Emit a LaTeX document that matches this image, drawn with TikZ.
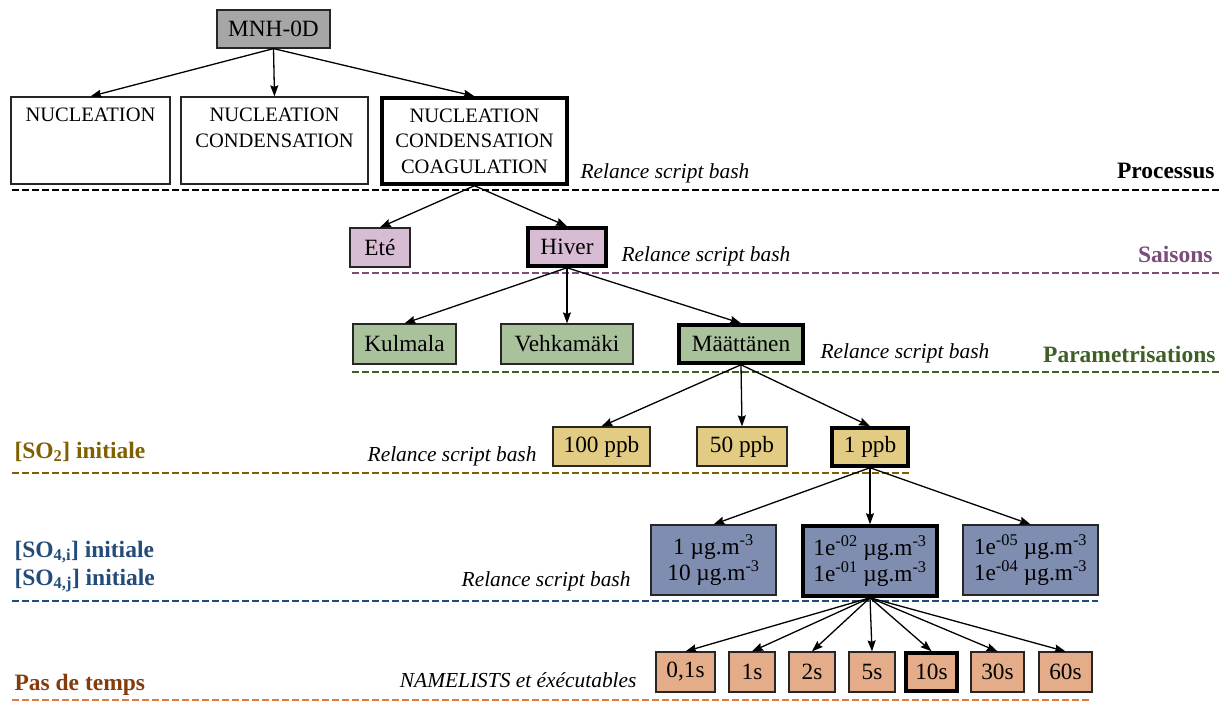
\documentclass[tikz,border=0pt]{standalone}
\usepackage{fontspec}
\setmainfont{Liberation Serif}
\usetikzlibrary{arrows.meta}
\definecolor{cgray}{RGB}{166,166,166}
\definecolor{cpink}{RGB}{216,188,212}
\definecolor{cgreen}{RGB}{169,194,156}
\definecolor{cyell}{RGB}{226,203,131}
\definecolor{cblue}{RGB}{127,141,176}
\definecolor{corng}{RGB}{228,172,136}
\definecolor{lpurp}{RGB}{123,77,120}
\definecolor{lgreen}{RGB}{62,95,38}
\definecolor{lolive}{RGB}{127,96,0}
\definecolor{lblue}{RGB}{36,76,122}
\definecolor{lbrown}{RGB}{132,60,12}
\definecolor{lorng}{RGB}{226,122,62}
\newcommand\bxfont{\fontsize{20.5}{25.5}\selectfont}
\newcommand\bgfont{\fontsize{23.3}{26.5}\selectfont}
\newcommand\itfnt{\fontsize{21.4}{25}\selectfont\itshape}
\newcommand\lbfnt{\fontsize{23.5}{28}\selectfont\bfseries}
\begin{document}
\begin{tikzpicture}[x=1pt,y=-1pt,
  box/.style={draw=black!85, line width=1.2pt, inner sep=0pt, align=center, font=\bgfont},
  sel/.style={line width=3.5pt, draw=black},
  arr/.style={-{Stealth[length=11pt,width=8pt,inset=1.5pt]}, line width=1.3pt},
  sep/.style={dash pattern=on 6.5pt off 3.5pt, line width=2pt},
  itl/.style={font=\itfnt},
  lbl/.style={font=\lbfnt}]
\useasboundingbox[fill=white] (0,0) rectangle (1227,701);

% level 0
\node[box, fill=cgray, minimum width=113pt, minimum height=38pt] (mnh) at (273.5,29) {MNH-0D};
% processus
\node[box, font=\bxfont, minimum width=159pt, minimum height=87pt] (n1) at (90.5,140.5) {NUCLEATION\\\mbox{}\\\mbox{}};
\node[box, font=\bxfont, minimum width=187pt, minimum height=87pt] (n2) at (274.5,140.5) {NUCLEATION\\CONDENSATION\\\mbox{}};
\node[box, sel, font=\bxfont, minimum width=185pt, minimum height=86pt] (n3) at (474.5,141) {NUCLEATION\\CONDENSATION\\COAGULATION};
% saisons
\node[box, fill=cpink, minimum width=60pt, minimum height=39pt] (ete) at (380,247.5) {Eté};
\node[box, sel, fill=cpink, minimum width=78pt, minimum height=38pt] (hiv) at (567,247) {Hiver};
% parametrisations
\node[box, fill=cgreen, minimum width=103pt, minimum height=40pt] (kul) at (404.5,344) {Kulmala};
\node[box, fill=cgreen, minimum width=132pt, minimum height=40pt] (veh) at (567,344) {Vehkamäki};
\node[box, sel, fill=cgreen, minimum width=124pt, minimum height=38pt] (maa) at (741,344) {Määttänen};
% SO2
\node[box, fill=cyell, minimum width=97pt, minimum height=39pt] (p100) at (601.5,446.5) {100 ppb};
\node[box, fill=cyell, minimum width=90pt, minimum height=39pt] (p50) at (742,446.5) {50 ppb};
\node[box, sel, fill=cyell, minimum width=76pt, minimum height=38pt] (p1) at (870,447) {1 ppb};
% SO4
\node[box, fill=cblue, minimum width=125pt, minimum height=70pt] (b1) at (713.5,560) {1 µg.m\textsuperscript{-3}\\10 µg.m\textsuperscript{-3}};
\node[box, sel, fill=cblue, minimum width=134pt, minimum height=70pt] (b2) at (870,561) {1e\textsuperscript{-02} µg.m\textsuperscript{-3}\\1e\textsuperscript{-01} µg.m\textsuperscript{-3}};
\node[box, fill=cblue, minimum width=135pt, minimum height=70pt] (b3) at (1030.5,560) {1e\textsuperscript{-05} µg.m\textsuperscript{-3}\\1e\textsuperscript{-04} µg.m\textsuperscript{-3}};
% pas de temps
\node[box, fill=corng, minimum width=59pt, minimum height=40pt] (t01) at (685.5,672) {0,1s};
\node[box, fill=corng, minimum width=46pt, minimum height=40pt] (t1) at (752,672) {1s};
\node[box, fill=corng, minimum width=46pt, minimum height=40pt] (t2) at (812,672) {2s};
\node[box, fill=corng, minimum width=46pt, minimum height=40pt] (t5) at (872,672) {5s};
\node[box, sel, fill=corng, minimum width=51pt, minimum height=38pt] (t10) at (931.5,672) {10s};
\node[box, fill=corng, minimum width=53pt, minimum height=40pt] (t30) at (997.5,672) {30s};
\node[box, fill=corng, minimum width=53pt, minimum height=40pt] (t60) at (1065.5,672) {60s};

% italic notes
\node[itl, anchor=base west] (r1) at (577,178) {Relance script bash};
\node[itl, anchor=base west] (r2) at (618,261) {Relance script bash};
\node[itl, anchor=base west] (r3) at (817,358) {Relance script bash};
\node[itl, anchor=base east] (r4) at (540,461) {Relance script bash};
\node[itl, anchor=base east] (r5) at (634,586) {Relance script bash};
\node[itl, anchor=base east] (r6) at (640,687) {NAMELISTS et éxécutables};

% level labels
\node[lbl, anchor=base east, text=black] (lproc) at (1218,178) {Processus};
\node[lbl, anchor=base east, text=lpurp] (lsais) at (1216,262) {Saisons};
\node[lbl, anchor=base east, text=lgreen] (lpar) at (1219,362) {Parametrisations};
\node[lbl, anchor=base west, text=lolive] (lso2) at (11,458) {[SO\textsubscript{2}] initiale};
\node[lbl, anchor=base west, text=lblue] (lso4i) at (11,557) {[SO\textsubscript{4,i}] initiale};
\node[lbl, anchor=base west, text=lblue] (lso4j) at (11,585) {[SO\textsubscript{4,j}] initiale};
\node[lbl, anchor=base west, text=lbrown] (lpas) at (11,690) {Pas de temps};

% separators
\draw[sep, black] (12,190) -- (1220,190);
\draw[sep, lpurp] (352,273) -- (1220,273);
\draw[sep, lgreen] (352,372) -- (1220,372);
\draw[sep, lolive] (12,473) -- (910,473);
\draw[sep, lblue] (12,601) -- (1098,601);
\draw[sep, lorng, line width=1.5pt] (12,700) -- (1092,700);

% arrows
\foreach \c in {n1,n2,n3} \draw[arr] (mnh.south) -- (\c.north);
\foreach \c in {ete,hiv} \draw[arr] (n3.south) -- (\c.north);
\foreach \c in {kul,veh,maa} \draw[arr] (hiv.south) -- (\c.north);
\foreach \c in {p100,p50,p1} \draw[arr] (maa.south) -- (\c.north);
\foreach \c in {b1,b2,b3} \draw[arr] (p1.south) -- (\c.north);
\foreach \c in {t01,t1,t2,t5,t10,t30,t60} \draw[arr] (b2.south) -- (\c.north);
\end{tikzpicture}
\end{document}
